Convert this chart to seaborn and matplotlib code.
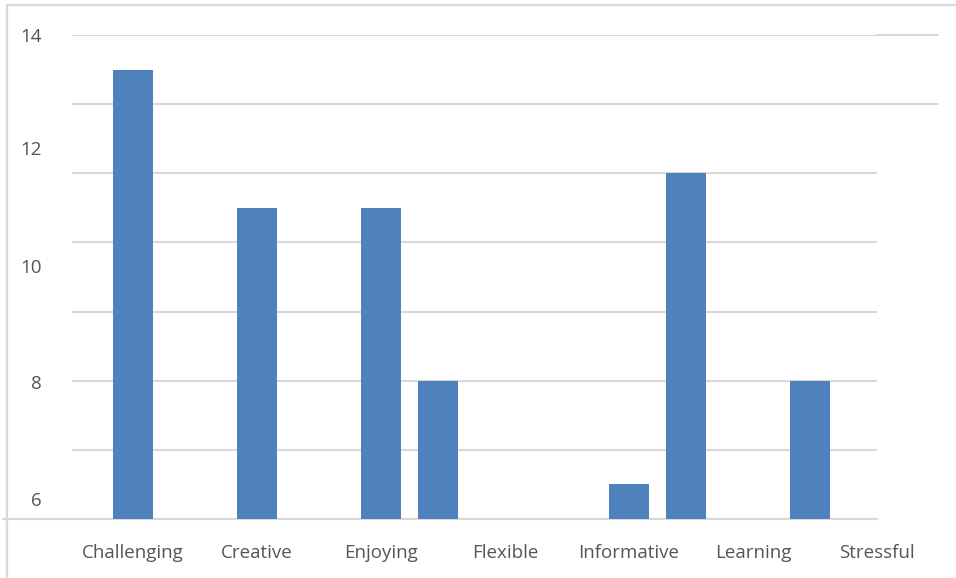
import numpy as np
import pandas as pd
import seaborn as sns
import matplotlib.pyplot as plt
from matplotlib.lines import Line2D

# Survey responses per descriptor
categories = ["Challenging", "Creative", "Enjoying", "Flexible",
              "Informative", "Learning", "Stressful"]
bar_category = ["Challenging", "Creative", "Enjoying", "Enjoying",
                "Informative", "Informative", "Learning"]
bar_series = [0, 0, 0, 1, 0, 1, 1]
bar_values = [13, 9, 9, 4, 1, 10, 4]

# y-axis labels and where they sit on the value scale
ytick_labels = ["14", "12", "10", "8", "6"]
ytick_pos = [14.0, 10.73, 7.32, 3.96, 0.58]

BLUE = "#4f81bd"
GRID = "#d9d9d9"
TEXT = "#555555"
series_offset = 0.46

df = pd.DataFrame({"category": bar_category, "series": bar_series,
                   "value": bar_values})
df["pos"] = df["category"].map({c: i for i, c in enumerate(categories)}) \
    + df["series"] * series_offset

sns.set_theme(style="white")
plt.rcParams["font.family"] = ["Open Sans", "DejaVu Sans"]

fig = plt.figure(figsize=(9.56, 5.78), dpi=100)
ax = fig.add_axes([72 / 956, 59 / 578, 805 / 956, 484 / 578])

sns.barplot(data=df, x="pos", y="value", native_scale=True,
            width=0.32 / series_offset, color=BLUE, saturation=1,
            edgecolor="none", linewidth=0, zorder=3, ax=ax)

ax.set_xlim(-0.492, 6.0)
ax.set_ylim(0, 14)

# Labels on major ticks, gridlines every 2 units on minor ticks
ax.yaxis.remove_overlapping_locs = False
ax.set_yticks(ytick_pos, labels=ytick_labels)
ax.set_yticks(np.arange(0, 15, 2), minor=True)
ax.yaxis.grid(False, which="major")
ax.yaxis.grid(True, which="minor", color=GRID, linewidth=1.5, zorder=1)
ax.tick_params(axis="y", which="both", length=0)
ax.tick_params(axis="y", which="major", pad=22, labelsize=13.5,
               labelcolor=TEXT)

ax.set_xticks(range(len(categories)), labels=categories)
ax.tick_params(axis="x", length=0, pad=18, labelsize=13.5, labelcolor=TEXT)
ax.set_xlabel("")
ax.set_ylabel("")

for s in ax.spines.values():
    s.set_visible(False)

# Top two gridlines run further right
for yv in (12, 14):
    ax.axhline(yv, xmin=1.0, xmax=(938 - 72) / 805, color=GRID,
               linewidth=1.5, clip_on=False, zorder=1)
# Baseline extends to the left edge
ax.plot([-(69 / 805), 1.0], [0, 0], transform=ax.transAxes, color=GRID,
        linewidth=1.6, clip_on=False, zorder=2)

# Outer frame (left and top edges)
fig.add_artist(Line2D([7 / 956, 7 / 956], [0, 1 - 5 / 578],
                      color=GRID, linewidth=1.6))
fig.add_artist(Line2D([7 / 956, 1], [1 - 5 / 578, 1 - 5 / 578],
                      color=GRID, linewidth=1.6))

fig.savefig("out.png", dpi=100, facecolor="white")
